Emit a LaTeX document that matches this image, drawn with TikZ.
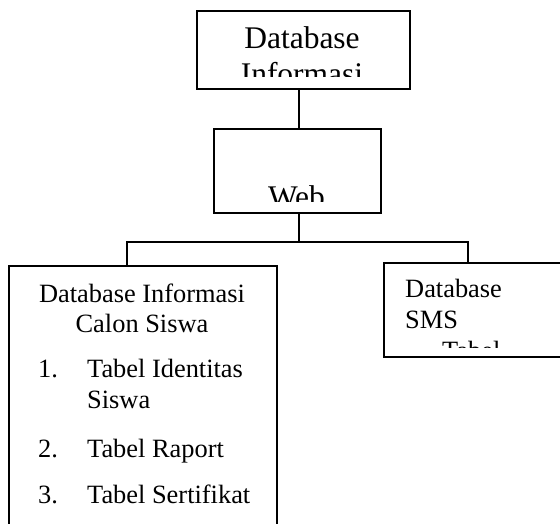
\documentclass[tikz,border=0pt]{standalone}
\usepackage{fontspec}
\setmainfont{Liberation Serif}
\begin{document}
\begin{tikzpicture}[x=1pt,y=-1pt,
  box/.style={draw=black, line width=1.9pt, fill=white, inner sep=0pt, rectangle},
  conn/.style={draw=black, line width=1.9pt},
  big/.style={inner sep=0pt, font=\fontsize{31.5}{36}\selectfont},
  body/.style={inner sep=0pt, font=\fontsize{26.4}{30}\selectfont}]
\clip (0,0) rectangle (560,524);
\fill[white] (0,0) rectangle (560,524);
% boxes
\node[box, anchor=north west, minimum width=213pt, minimum height=78pt] (top) at (196,10) {};
\node[box, anchor=north west, minimum width=167pt, minimum height=84pt] (web) at (213,128) {};
\node[box, anchor=north west, minimum width=268pt, minimum height=290pt] (left) at (8,265) {};
\node[box, anchor=north west, minimum width=200pt, minimum height=94pt] (right) at (383,262) {};
% connectors
\coordinate (c1) at (299,242);
\coordinate (hl) at (127,242);
\coordinate (hr) at (468,242);
\draw[conn] (top.south -| c1) -- (web.north -| c1);
\draw[conn] (web.south -| c1) -- (c1);
\draw[conn] (left.north -| hl) -- (hl) -- (hr) -- (right.north -| hr);
% top text
\begin{scope}
\clip (196,10) rectangle (409,77);
\node[big, anchor=base] (t1) at (302,49) {Database};
\node[big, anchor=base] (t2) at (302,85) {Informasi};
\end{scope}
\begin{scope}
\clip (213,128) rectangle (380,202);
\node[big, anchor=base] (w1) at (296.5,207.5) {Web};
\end{scope}
% left text
\node[body, anchor=base] (l1) at (142,302) {Database Informasi};
\node[body, anchor=base] (l2) at (142,332) {Calon Siswa};
\node[body, anchor=base west] (n1) at (38,377) {1.};
\node[body, anchor=base west] (i1) at (87,377) {Tabel Identitas};
\node[body, anchor=base west] (i1b) at (87,408) {Siswa};
\node[body, anchor=base west] (n2) at (38,457) {2.};
\node[body, anchor=base west] (i2) at (87,457) {Tabel Raport};
\node[body, anchor=base west] (n3) at (38,503) {3.};
\node[body, anchor=base west] (i3) at (87,503) {Tabel Sertifikat};
% right text
\begin{scope}
\clip (383,262) rectangle (560,347);
\node[body, anchor=base west] (r1) at (405,297) {Database};
\node[body, anchor=base west] (r2) at (405,328) {SMS};
\node[body, anchor=base west] (r3) at (442,359) {Tabel};
\end{scope}
\end{tikzpicture}
\end{document}
